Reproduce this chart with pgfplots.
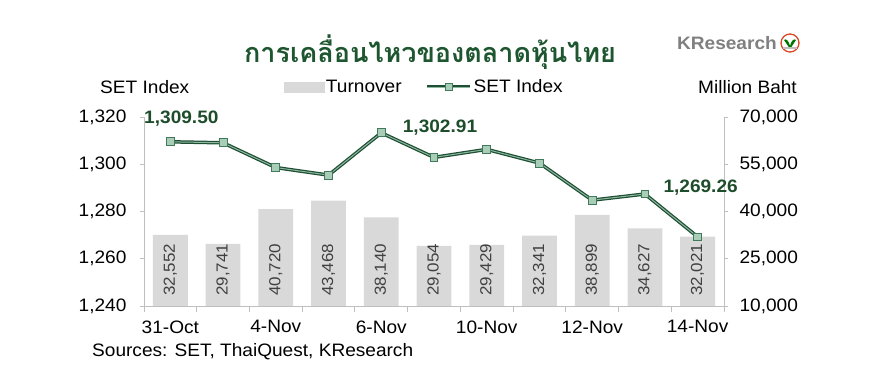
\documentclass[border=0pt]{standalone}
\usepackage{pgfplots}
\pgfplotsset{compat=1.18}
\usepackage{pgfplotstable}
\usepackage{fontspec}
\setmainfont{Liberation Sans}[FakeStretch=1.06]
\newfontfamily\thaifont[Script=Thai]{Loma}
\definecolor{lineg}{HTML}{1E4F35}
\definecolor{innerg}{HTML}{8FB8A0}
\definecolor{markfill}{HTML}{A9CDB7}
\definecolor{markdraw}{HTML}{3F7A5A}
\definecolor{barg}{HTML}{D9D9D9}
\definecolor{axisg}{HTML}{BFBFBF}
\definecolor{titleg}{HTML}{1E5630}
\definecolor{labg}{HTML}{1E4D2B}
\definecolor{barlab}{HTML}{404040}
\definecolor{logog}{HTML}{808080}

\pgfplotstableread{
x date  t      s
0 31Oct 32552  1309.50
1 3Nov  29741  1309.08
2 4Nov  40720  1298.60
3 5Nov  43468  1295.40
4 6Nov  38140  1313.30
5 7Nov  29054  1302.91
6 10Nov 29429  1306.30
7 11Nov 32341  1300.50
8 12Nov 38899  1284.80
9 13Nov 34627  1287.40
10 14Nov 32021 1269.26
}\datatable

\pgfplotsset{common/.style={
  scale only axis, width=580pt, height=189pt,
  at={(144pt,65pt)}, anchor=south west,
  xmin=-0.5, xmax=10.5,
  axis line style={draw=axisg, line width=0.9pt},
  tick style={draw=axisg, line width=0.9pt},
  tick align=outside, major tick length=4pt,
  tick label style={font=\fontsize{18}{21}\selectfont},
  /pgf/number format/assume math mode=true,
}}

\begin{document}
\begin{tikzpicture}[x=1pt,y=1pt]
\useasboundingbox (0,0) rectangle (883,371);

% bars, right axis
\begin{axis}[common,
  axis y line*=right, axis x line=none,
  ymin=10000, ymax=70000,
  ytick={10000,25000,40000,55000,70000},
  scaled y ticks=false,
  y tick label style={/pgf/number format/fixed, /pgf/number format/1000 sep={,}, xshift=8pt},
]
\addplot[ybar, bar shift=0pt, bar width=0.66, fill=barg, draw=none] table[x=x, y=t] {\datatable};
\addplot[draw=none, mark=none, nodes near coords={\pgfmathprintnumber[fixed, precision=0, 1000 sep={,}]{\pgfplotspointmeta}},
  point meta=explicit,
  nodes near coords style={font=\fontsize{16}{19}\selectfont, color=barlab, yshift=10pt, rotate=90, anchor=west, inner sep=0pt}]
  table[x=x, y expr=10000, meta=t] {\datatable};
\end{axis}

% line, left axis
\begin{axis}[common,
  axis y line*=left, axis x line*=bottom,
  clip=false,
  ymin=1240, ymax=1320,
  ytick={1240,1260,1280,1300,1320},
  y tick label style={/pgf/number format/fixed, /pgf/number format/1000 sep={,}, xshift=-10pt},
  xtick={0,2,4,6,8,10},
  xticklabels={31-Oct,4-Nov,6-Nov,10-Nov,12-Nov,14-Nov},
  major x tick style={draw=none},
  minor xtick={-0.5,0.5,...,10.5},
  minor tick length=6pt,
  x tick label style={yshift=-7pt},
  legend style={draw=none, fill=none, at={(0.483,1.159)}, anchor=center,
    legend columns=2, font=\fontsize{18}{21}\selectfont,
    /tikz/every even column/.append style={column sep=22pt}},
]
\addlegendimage{legend image code/.code={\fill[barg] (-3pt,-5pt) rectangle (37pt,5pt);}}
\addlegendentry{Turnover}
\addlegendimage{legend image code/.code={\draw[lineg, line width=3pt] (0pt,0pt) -- (43pt,0pt);
  \draw[innerg, line width=0.8pt] (0pt,0pt) -- (43pt,0pt);
  \path plot[mark=square*, mark size=3.5pt, mark options={fill=markfill, draw=markdraw, line width=0.8pt}] coordinates {(21.5pt,0pt)};}}
\addlegendentry{SET Index}

\addplot[lineg, line width=3.5pt, forget plot] table[x=x, y=s] {\datatable};
\addplot[innerg, line width=1pt, forget plot] table[x=x, y=s] {\datatable};
\addplot[only marks, mark=square*, mark size=3.9pt, mark options={fill=markfill, draw=markdraw, line width=0.9pt}, forget plot] table[x=x, y=s] {\datatable};

\node[font=\bfseries\fontsize{18}{21}\selectfont, color=labg] at (axis cs:0,1309.50) [xshift=11pt, yshift=23pt] {1,309.50};
\node[font=\bfseries\fontsize{18}{21}\selectfont, color=labg] at (axis cs:5,1302.91) [xshift=6pt, yshift=30pt] {1,302.91};
\node[font=\bfseries\fontsize{18}{21}\selectfont, color=labg] at (axis cs:10,1269.26) [xshift=3pt, yshift=49pt] {1,269.26};
\end{axis}

% texts around
\node[font=\thaifont\bfseries\fontsize{27}{32}\selectfont, color=titleg] at (430,319) {การเคลื่อนไหวของตลาดหุ้นไทย};
\node[font=\fontsize{18}{21}\selectfont, anchor=west, inner sep=0pt] at (100,284) {SET Index};
\node[font=\fontsize{18}{21}\selectfont, anchor=east, inner sep=0pt] at (797,284) {Million Baht};
\node[font=\fontsize{18}{21}\selectfont, anchor=west, inner sep=0pt] at (92,19) {Sources: SET, ThaiQuest, KResearch};
% logo
\node[font=\bfseries\fontsize{18}{21}\selectfont, color=logog, anchor=east, inner sep=0pt] at (777,328) {KResearch};
\draw[color=red!45!brown, line width=1.3pt] (790,328) circle (9);
\fill[green!45!black] (790,322) -- (784,331) .. controls (786,333) and (789,330) .. (790,325) .. controls (791,330) and (794,333) .. (796,331) -- cycle;
\fill[gray!50] (783,322) rectangle (797,324);
\end{tikzpicture}
\end{document}
